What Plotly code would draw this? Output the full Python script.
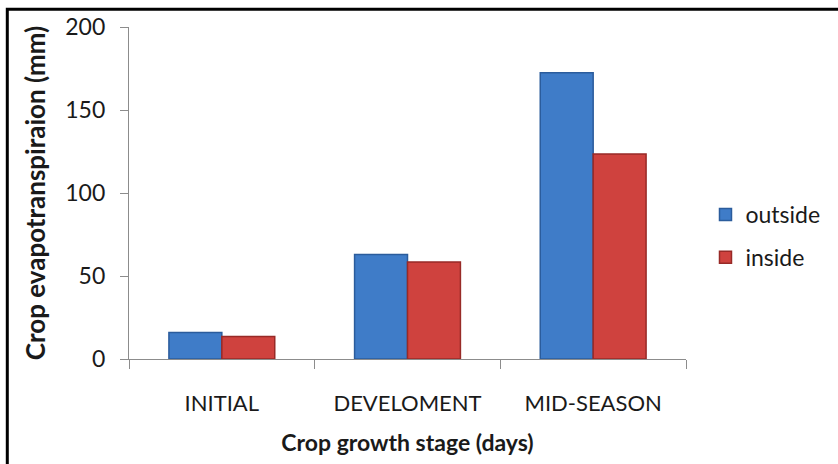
import plotly.graph_objects as go

# Crop evapotranspiration per growth stage, outside vs inside
stages = ["INITIAL", "DEVELOMENT", "MID-SEASON"]
outside_et = [16, 63, 172.5]
inside_et = [13.5, 58.5, 123.5]
y_ticks = [0, 50, 100, 150, 200]

FONT = "Lato, 'Open Sans', sans-serif"
BLUE, BLUE_EDGE = "#3f7cc8", "#2b5c9c"
RED, RED_EDGE = "#cf423e", "#982a27"

fig = go.Figure()
fig.add_trace(go.Bar(
    name="outside", x=stages, y=outside_et, legendgroup="a",
    marker=dict(color=BLUE, line=dict(color=BLUE_EDGE, width=1.5)),
))
fig.add_trace(go.Bar(
    name="inside", x=stages, y=inside_et, legendgroup="b",
    marker=dict(color=RED, line=dict(color=RED_EDGE, width=1.5)),
))

axis_grey = "#8c8c8c"
fig.update_layout(
    width=838, height=464,
    margin=dict(l=129, r=146, t=24, b=105),
    paper_bgcolor="white", plot_bgcolor="white",
    barmode="group", bargap=0.43, bargroupgap=0,
    font=dict(family=FONT, color="#1a1a1a", size=21),
    showlegend=True,
    legend=dict(
        x=1.035, y=0.5, xanchor="left", yanchor="top",
        font=dict(size=23), tracegroupgap=10,
        traceorder="grouped", itemwidth=30,
    ),
    xaxis=dict(
        showline=True, linecolor=axis_grey, linewidth=1.3,
        ticks="outside", tickson="boundaries", ticklen=9,
        tickcolor=axis_grey, tickwidth=1.3,
        tickfont=dict(size=22), ticklabelstandoff=24,
        title=dict(text="<b>Crop growth stage (days)</b>", font=dict(size=23), standoff=20),
    ),
    yaxis=dict(
        range=[0, 200], tickvals=y_ticks,
        showline=True, linecolor=axis_grey, linewidth=1.3,
        ticks="outside", ticklen=8, tickcolor=axis_grey, tickwidth=1.3,
        showgrid=False, zeroline=False,
        tickfont=dict(size=23), ticklabelstandoff=10,
        title=dict(text="<b>Crop evapotranspiraion (mm)</b>", font=dict(size=26), standoff=12),
    ),
)

# Frame around the chart (left and top edges are visible; right/bottom run off the page)
fig.add_shape(
    type="rect", xref="paper", yref="paper",
    x0=-0.2185, y0=-0.4, x1=1.3, y1=1.0535,
    line=dict(color="black", width=3), fillcolor="rgba(0,0,0,0)", layer="above",
)

fig.write_html("out.html")
